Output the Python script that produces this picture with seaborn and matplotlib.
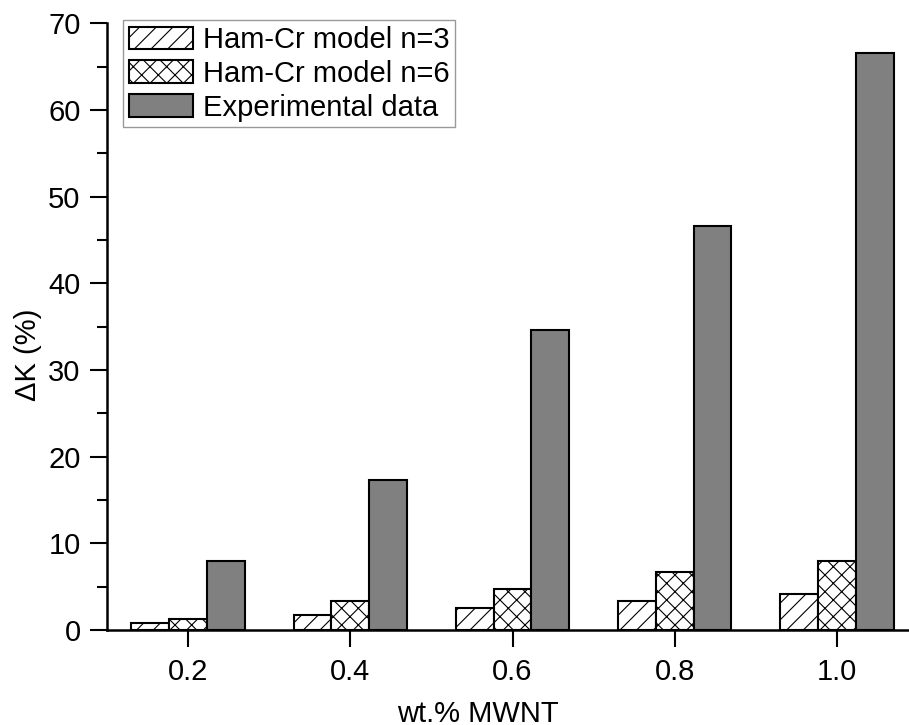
import pandas as pd
import matplotlib
matplotlib.use("Agg")
import matplotlib.pyplot as plt
import seaborn as sns

# data
wt_labels = ["0.2", "0.4", "0.6", "0.8", "1.0"]
series_names = ["Ham-Cr model n=3", "Ham-Cr model n=6", "Experimental data"]
model_n3 = [0.8, 1.7, 2.5, 3.3, 4.1]
model_n6 = [1.3, 3.3, 4.7, 6.7, 8.0]
experimental = [8.0, 17.3, 34.6, 46.6, 66.6]

df = pd.DataFrame({
    "wt": wt_labels * 3,
    "dk": model_n3 + model_n6 + experimental,
    "series": [s for s in series_names for _ in wt_labels],
})

sns.set_style("ticks")
plt.rcParams["font.family"] = ["Liberation Sans", "DejaVu Sans"]
plt.rcParams["hatch.linewidth"] = 0.8
for key in ["text.color", "axes.labelcolor", "xtick.color", "ytick.color", "axes.edgecolor"]:
    plt.rcParams[key] = "black"

fig = plt.figure(figsize=(9.09, 7.25), dpi=100)
ax = fig.add_axes([107 / 909, 1 - 630 / 725, 811 / 909, 606.7 / 725])

sns.barplot(data=df, x="wt", y="dk", hue="series", order=wt_labels,
            hue_order=series_names, palette=["white", "white", "#808080"],
            width=0.7, gap=0, edgecolor="black", linewidth=1.5,
            saturation=1, legend=False, ax=ax)

# hatch patterns for the two model series
for cont, hatch in zip(ax.containers, ["//", "xx", None]):
    for p in cont.patches:
        p.set_hatch(hatch)

ax.set_xlim(-0.5, 4.5)
ax.set_ylim(0, 70)
ax.set_yticks(range(0, 71, 10))
ax.set_yticks(range(5, 70, 10), minor=True)
ax.tick_params(axis="both", which="major", length=12, width=1.5, labelsize=21)
ax.tick_params(axis="x", pad=8)
ax.tick_params(axis="y", pad=7)
ax.tick_params(axis="y", which="minor", length=7, width=1.5)
for side in ["left", "bottom"]:
    ax.spines[side].set_linewidth(1.8)
sns.despine(ax=ax)

ax.set_xlabel("wt.% MWNT", fontsize=21)
ax.set_ylabel("\u0394K (%)", fontsize=21)
ax.xaxis.set_label_coords(0.457, -0.115)
ax.yaxis.set_label_coords(-0.08, 0.453)

leg = ax.legend(ax.containers, series_names, loc="upper left",
                bbox_to_anchor=(123 / 909, 1 - 20 / 725),
                bbox_transform=fig.transFigure, borderaxespad=0,
                fontsize=21, frameon=True, fancybox=False,
                handlelength=2.2, handleheight=0.8, handletextpad=0.33,
                borderpad=0.2, labelspacing=0.2)
leg.get_frame().set_edgecolor("#808080")
leg.get_frame().set_linewidth(1.0)

fig.savefig("out.png", dpi=100)
